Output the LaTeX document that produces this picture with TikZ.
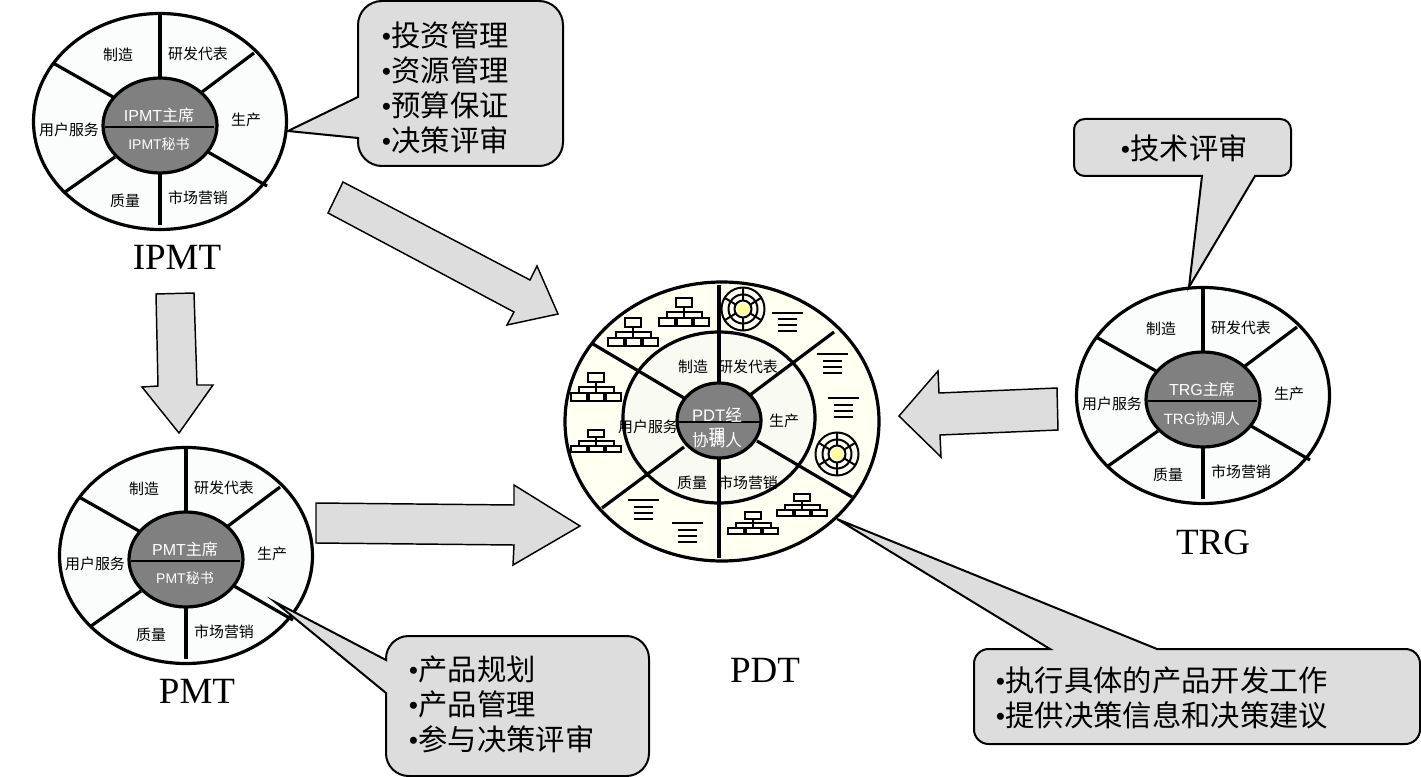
\documentclass[tikz,border=0pt]{standalone}
\usepackage{fontspec}
\setmainfont{Liberation Serif}
\setsansfont{Liberation Sans}
\newfontfamily\cjk{Noto Sans CJK SC}
\definecolor{boxgray}{HTML}{DDDDDD}
\definecolor{wheelfill}{HTML}{FAFDFB}
\definecolor{hubfill}{HTML}{808080}
\definecolor{pdtouter}{HTML}{FFFFF2}
\definecolor{pdtmid}{HTML}{F9FBF3}
\definecolor{dotyellow}{HTML}{FFFF99}
\tikzset{
  x=0.75pt,y=-0.75pt,
  ringline/.style={draw=black,line width=2.4pt},
  spokeline/.style={draw=black,line width=2.4pt},
  bigarrow/.style={draw=black,fill=boxgray,line width=1.1pt,line join=miter},
  calloutshape/.style={draw=black,fill=boxgray,line width=1.5pt,line join=miter},
  calltext/.style={inner sep=0pt,align=left,anchor=west,font=\fontsize{22pt}{26.25pt}\selectfont\cjk},
  titletext/.style={inner sep=0pt,font=\fontsize{27.75pt}{30pt}\selectfont},
  seat/.style={inner sep=0pt,font=\fontsize{11.2pt}{13pt}\selectfont\cjk},
  hubtext/.style={inner sep=0pt,text=white},
  iconline/.style={draw=black,line width=1.5pt},
}
\newcommand{\bul}{{\rmfamily •}}
% wheel: prefix, dx, dy, upper hub text, lower hub text, lower size
\newcommand{\wheel}[6]{%
\begin{scope}[shift={(#2,#3)}]
  \draw[ringline,fill=wheelfill] (160,121.5) ellipse [x radius=126.5,y radius=108];
  \draw[spokeline] (160,14) -- (160,78);
  \draw[spokeline] (254,53) -- (202,92);
  \draw[spokeline] (267,186) -- (208,152);
  \draw[spokeline] (160,173) -- (160,225);
  \draw[spokeline] (65,192) -- (115,157);
  \draw[spokeline] (53,63) -- (113,97);
  \draw[ringline,fill=hubfill] (160,125.5) ellipse [x radius=57,y radius=47.5];
  \draw[draw=black,line width=1.9pt] (105,127) -- (214,127);
  \node[seat] (#1a) at (118,55) {制造};
  \node[seat] (#1b) at (198,54) {研发代表};
  \node[seat] (#1c) at (246,120) {生产};
  \node[seat] (#1d) at (198,198) {市场营销};
  \node[seat] (#1e) at (125,201) {质量};
  \node[seat] (#1f) at (69,130) {用户服务};
  \node[hubtext,font=\fontsize{12pt}{14pt}\selectfont\sffamily] (#1g) at (159,115) {#4};
  \node[hubtext,font=\fontsize{#6pt}{14pt}\selectfont\sffamily] (#1h) at (159,144.5) {#5};
\end{scope}}
\newcommand{\orgicon}[4]{% name, x, y, vertical scale
\begin{scope}[shift={(#2,#3)},yscale=#4]
  \draw[iconline] (-8,0) rectangle (8,9);
  \draw[iconline] (0,9) -- (0,20) (-17.5,20) -- (-17.5,14) -- (17.5,14) -- (17.5,20);
  \draw[iconline] (-25,20) rectangle (-9.5,28);
  \draw[iconline] (-7.5,20) rectangle (7.5,28);
  \draw[iconline] (9.5,20) rectangle (25,28);
\end{scope}}
\newcommand{\docicon}[3]{%
\begin{scope}[shift={(#2,#3)}]
  \draw[iconline] (-15.5,0) -- (15.5,0);
  \draw[iconline] (-9.5,6.5) -- (9.5,6.5) (-9.5,12.5) -- (9.5,12.5) (-9.5,18.5) -- (9.5,18.5);
\end{scope}}
\newcommand{\targeticon}[3]{%
\begin{scope}[shift={(#2,#3)}]
  \draw[iconline,fill=pdtouter] (0,0) circle [x radius=21.5,y radius=21.5];
  \draw[iconline] (0,0) circle [x radius=14.5,y radius=14.5];
  \draw[iconline] (0,-21.5) -- (0,21.5) (-18,-11) -- (18,11) (18,-11) -- (-18,11);
  \draw[iconline,fill=pdtouter] (0,0) circle [x radius=8.5,y radius=8.5];
  \draw[draw=none,fill=dotyellow] (0,0) circle [x radius=6,y radius=6];
\end{scope}}
\begin{document}
\begin{tikzpicture}
\useasboundingbox[fill=white] (0,0) rectangle (1421,777);
% wheels
\wheel{ipmt}{0}{0}{IPMT{\cjk 主席}}{IPMT{\cjk 秘书}}{10.5}
\wheel{pmt}{26}{434}{PMT{\cjk 主席}}{PMT{\cjk 秘书}}{10.5}
\wheel{trg}{1043}{274}{TRG{\cjk 主席}}{TRG{\cjk 协调人}}{11.2}
% PDT wheel
\draw[ringline,fill=pdtouter] (722,421.5) ellipse [x radius=157,y radius=139.5];
\draw[ringline,fill=pdtmid] (719,417.5) ellipse [x radius=96,y radius=85.5];
\draw[spokeline] (719,285) -- (719,383);
\draw[spokeline] (834,332) -- (750,395);
\draw[spokeline] (852,497) -- (757,441);
\draw[spokeline] (719,458) -- (719,558);
\draw[spokeline] (602,508) -- (684,447);
\draw[spokeline] (593,344) -- (684,398);
\node[seat] (pdta) at (693,367) {制造};
\node[seat] (pdtb) at (748,367) {研发代表};
\node[seat] (pdtc) at (784,421) {生产};
\node[seat] (pdtd) at (748,483) {市场营销};
\node[seat] (pdte) at (692,483) {质量};
\node[seat] (pdtf) at (648,427) {用户服务};
\draw[ringline,fill=hubfill] (719,420.5) ellipse [x radius=42,y radius=37.5];
\draw[draw=black,line width=1.9pt] (677,422) -- (761,422);
\node[hubtext,font=\fontsize{12.5pt}{14pt}\selectfont\sffamily] (pdtg) at (717,415) {PDT{\cjk 经}};
\node[hubtext,font=\fontsize{12.5pt}{14pt}\selectfont\cjk] (pdti) at (717,435) {理};
\node[hubtext,font=\fontsize{12.5pt}{14pt}\selectfont\cjk] (pdth) at (717,440) {协调人};
% PDT icons
\orgicon{o1}{684}{298}{1}
\orgicon{o2}{633}{318}{1}
\orgicon{o3}{596}{373}{1}
\orgicon{o4}{596}{430}{0.8}
\orgicon{o5}{753}{512}{0.8}
\orgicon{o6}{802}{494}{0.8}
\docicon{d1}{787.5}{313}
\docicon{d2}{832}{354}
\docicon{d3}{843}{398}
\docicon{d4}{643}{500}
\docicon{d5}{687}{523}
\targeticon{t1}{743}{309}
\targeticon{t2}{837}{454}
% big arrows
\draw[bigarrow] (343,182) -- (530,280) -- (537,266) -- (558,314) -- (507,325) -- (514,312) -- (328,213) -- cycle;
\draw[bigarrow] (156,294) -- (194,293) -- (197,385) -- (213,385) -- (179,433) -- (142,387) -- (158,386) -- cycle;
\draw[bigarrow] (316,503) -- (514,505) -- (514,485) -- (580,526) -- (513,565) -- (514,545) -- (316,543) -- cycle;
\draw[bigarrow] (1057,388) -- (939,393) -- (938,371) -- (899,416) -- (941,457) -- (940,435) -- (1058,430) -- cycle;
% callouts
\draw[calloutshape] (358,97) [sharp corners] -- (288,131) -- (358,138) [rounded corners=18pt] -- (358,166) -- (563,166) -- (563,1) -- (358,1) [sharp corners] -- cycle;
\draw[calloutshape] (386,660) [sharp corners] -- (275,602) -- (386,693) [rounded corners=17pt] -- (386,776) -- (649,776) -- (649,636) -- (386,636) [sharp corners] -- cycle;
\draw[calloutshape] (1050,649) [sharp corners] -- (837,519) -- (1157,649) [rounded corners=11pt] -- (1420,649) -- (1420,744) -- (974,744) -- (974,649) [sharp corners] -- cycle;
\draw[calloutshape] (1202,176) [sharp corners] -- (1189,287) -- (1255,176) [rounded corners=8pt] -- (1291,176) -- (1291,119) -- (1074,119) -- (1074,176) [sharp corners] -- cycle;
\node[calltext] (c1) at (381,87.5) {\bul 投资管理\\\bul 资源管理\\\bul 预算保证\\\bul 决策评审};
\node[calltext] (c2) at (408,704) {\bul 产品规划\\\bul 产品管理\\\bul 参与决策评审};
\node[calltext] (c3) at (995,697.5) {\bul 执行具体的产品开发工作\\\bul 提供决策信息和决策建议};
\node[calltext] (c4) at (1120,148) {\bul 技术评审};
% titles
\node[titletext] (tipmt) at (177,257) {IPMT};
\node[titletext] (tpmt) at (197,691) {PMT};
\node[titletext] (tpdt) at (765,670) {PDT};
\node[titletext] (ttrg) at (1213,542) {TRG};
\end{tikzpicture}
\end{document}
